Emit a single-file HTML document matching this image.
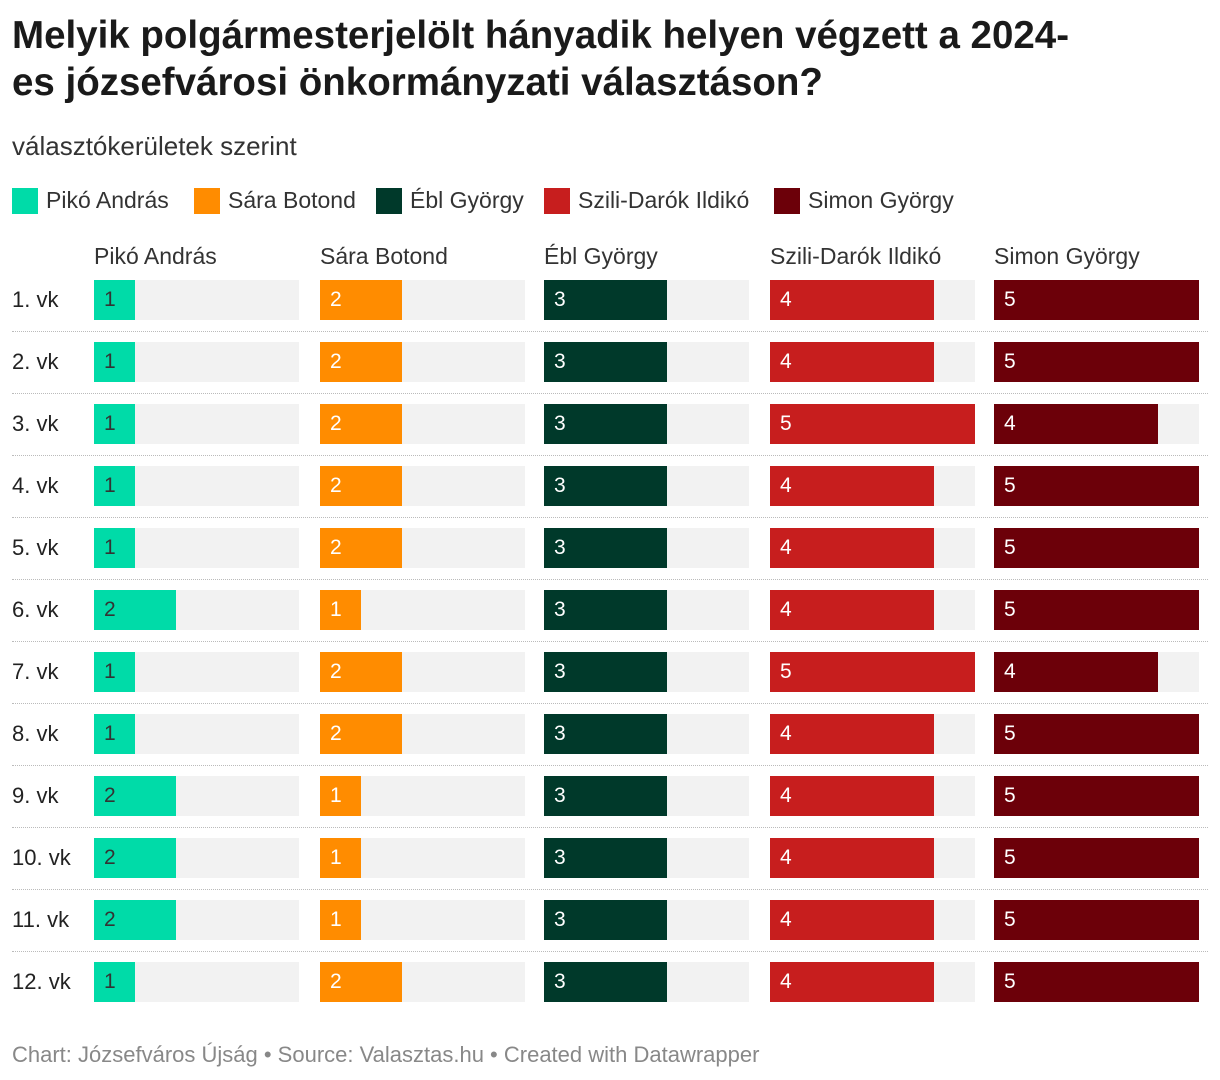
<!DOCTYPE html>
<html><head><meta charset="utf-8">
<style>
body{margin:0;background:#fff;font-family:"Liberation Sans",sans-serif;color:#222;}
#wrap{position:relative;width:1220px;height:1080px;overflow:hidden;}
h1{position:absolute;left:12px;top:12px;margin:0;font-size:38.5px;line-height:47px;font-weight:bold;color:#1a1a1a;width:1200px;letter-spacing:0px}
.sub{position:absolute;left:12px;top:131px;font-size:26px;color:#333}
.leg{position:absolute;top:187px;font-size:23px;color:#333;display:flex;align-items:center}
.leg i{display:inline-block;width:26px;height:26px;margin-right:8px}
.hdr{position:absolute;top:243px;font-size:23px;color:#333}
.rl{position:absolute;left:12px;font-size:22px;color:#222}
.bg{position:absolute;height:40px;background:#f2f2f2}
.bar{position:absolute;height:40px}
.val{position:absolute;font-size:21px;line-height:40px}
.sep{position:absolute;left:12px;width:1196px;border-top:1px dotted #bbb}
.foot{position:absolute;left:12px;top:1042px;font-size:22px;color:#888}
</style></head><body>
<div id="wrap">
<h1>Melyik polgármesterjelölt hányadik helyen végzett a 2024-<br>es józsefvárosi önkormányzati választáson?</h1>
<div class="sub">választókerületek szerint</div>
<div id="legend"></div>
<div id="plot"></div>
<div class="foot">Chart: Józsefváros Újság • Source: Valasztas.hu • Created with Datawrapper</div>
</div>
<script>
const candidates=["Pikó András","Sára Botond","Ébl György","Szili-Darók Ildikó","Simon György"];
const districts=["1. vk","2. vk","3. vk","4. vk","5. vk","6. vk","7. vk","8. vk","9. vk","10. vk","11. vk","12. vk"];
const piko=[1,1,1,1,1,2,1,1,2,2,2,1];
const sara=[2,2,2,2,2,1,2,2,1,1,1,2];
const ebl=[3,3,3,3,3,3,3,3,3,3,3,3];
const szili=[4,4,5,4,4,4,5,4,4,4,4,4];
const simon=[5,5,4,5,5,5,4,5,5,5,5,5];
const series=[piko,sara,ebl,szili,simon];
const colors=["#00dba8","#ff8c00","#00392a","#c71e1e","#6c0009"];
const textColors=["#333","#fff","#fff","#fff","#fff"];
const legX=[12,194,376,544,774];
const colX=[94,320,544,770,994];
const colW=205, maxV=5, rowY0=280, rowH=62;
const x=v=>v/maxV*colW;
const y=i=>rowY0+i*rowH;
const leg=document.getElementById('legend');
candidates.forEach((c,k)=>{
 const d=document.createElement('div');d.className='leg';d.style.left=legX[k]+'px';
 
 
 d.innerHTML='<i style="background:'+colors[k]+'"></i>'+c;leg.appendChild(d);
});
const p=document.getElementById('plot');
candidates.forEach((c,k)=>{
 const h=document.createElement('div');h.className='hdr';h.style.left=colX[k]+'px';h.textContent=c;
 
 
 p.appendChild(h);
});
districts.forEach((dname,i)=>{
 const l=document.createElement('div');l.className='rl';l.style.top=(y(i)+7)+'px';l.textContent=dname;
 
 
 p.appendChild(l);
 series.forEach((s,k)=>{
  const bg=document.createElement('div');bg.className='bg';
  bg.style.left=colX[k]+'px';bg.style.top=y(i)+'px';bg.style.width=colW+'px';
  
  
  p.appendChild(bg);
  const b=document.createElement('div');b.className='bar';
  b.style.left=colX[k]+'px';b.style.top=y(i)+'px';b.style.width=x(s[i])+'px';b.style.background=colors[k];
  
  
  p.appendChild(b);
  const v=document.createElement('div');v.className='val';
  v.style.left=(colX[k]+10)+'px';v.style.top=y(i)+'px';v.style.color=textColors[k];v.textContent=s[i];
  
  
  p.appendChild(v);
 });
 if(i<districts.length-1){
  const sp=document.createElement('div');sp.className='sep';sp.style.top=(y(i)+51)+'px';
  
  
  p.appendChild(sp);
 }
});
</script>
</body></html>
